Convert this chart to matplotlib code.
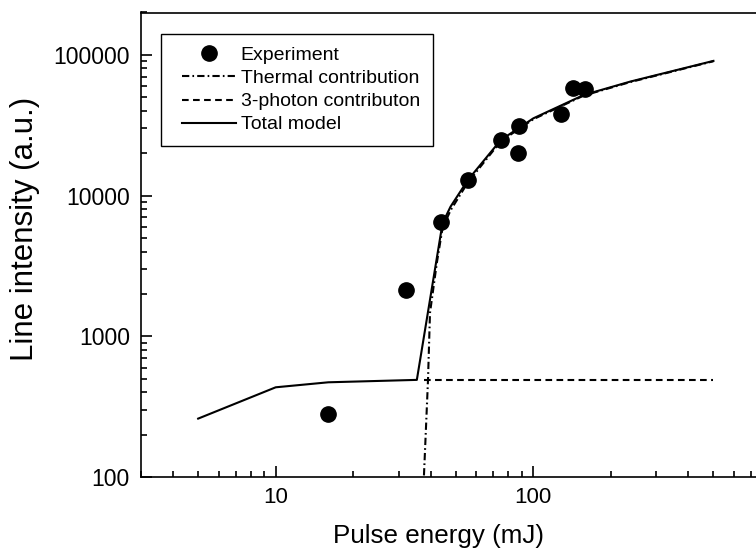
import matplotlib
matplotlib.use('Agg')
import matplotlib.pyplot as plt
from matplotlib.lines import Line2D
from matplotlib.legend_handler import HandlerLine2D
from matplotlib.ticker import LogLocator, FuncFormatter, NullFormatter

plt.rcParams['font.family'] = ['Liberation Sans', 'DejaVu Sans']

# measured line intensity vs pulse energy
exp_e = [16, 32, 44, 56, 75, 87, 88, 128, 142, 158]
exp_i = [280, 2150, 6500, 12800, 25000, 20000, 31000, 38000, 58000, 57000]

# model curves
total_e = [5, 10, 16, 35.3, 44.4, 47.7, 55.7, 74.7, 100, 157, 238, 500]
total_i = [260, 434, 471, 490, 6350, 8340, 12900, 24800, 35400, 51900, 64600, 90600]

thermal_e = [37.4, 39.0, 39.7, 42.2, 44.4, 47.7, 55.7, 74.7, 100, 157, 238, 500]
thermal_i = [80, 489, 1466, 3320, 5860, 7850, 12400, 24300, 34900, 51400, 64100, 90100]

photon3_e = [37.5, 500]
photon3_i = [490, 490]

fig = plt.figure(figsize=(7.56, 5.52), dpi=100)
# the axes run past the right edge of the figure
ax = fig.add_axes([141/756, 75/552, 650/756, 464.5/552])

ax.plot(exp_e, exp_i, 'o', color='black', markersize=11, label='Experiment')
ax.plot(thermal_e, thermal_i, color='black', lw=1.5, dashes=(3.5, 1.5, 0.8, 1.5),
        label='Thermal contribution')
ax.plot(photon3_e, photon3_i, color='black', lw=1.5, dashes=(3.2, 2.1),
        label='3-photon contributon')
ax.plot(total_e, total_i, color='black', lw=1.5, label='Total model')

ax.set_xscale('log')
ax.set_yscale('log')
ax.set_xlim(3, 1000)
ax.set_ylim(100, 2e5)

ax.xaxis.set_major_formatter(FuncFormatter(lambda v, p: '%d' % round(v) if v < 1000 else ''))
ax.yaxis.set_major_formatter(FuncFormatter(lambda v, p: '%d' % round(v)))
ax.xaxis.set_minor_locator(LogLocator(base=10, subs=range(2, 10)))
ax.yaxis.set_minor_locator(LogLocator(base=10, subs=range(2, 10)))
ax.xaxis.set_minor_formatter(NullFormatter())
ax.yaxis.set_minor_formatter(NullFormatter())

ax.tick_params(which='both', direction='in', top=False, right=False, width=1.2)
ax.tick_params(which='major', length=8)
ax.tick_params(which='minor', length=4.5)
ax.tick_params(axis='x', pad=7, labelsize=16)
ax.tick_params(axis='y', pad=8, labelsize=16.5)
for s in ax.spines.values():
    s.set_linewidth(1.2)

fig.text(438/756, 1 - 543.3/552, 'Pulse energy (mJ)', fontsize=18.7,
         ha='center', va='baseline')
fig.text(33.3/756, 1 - 229/552, 'Line intensity (a.u.)', fontsize=22.5, rotation=90,
         rotation_mode='anchor', ha='center', va='baseline')

leg = ax.legend(loc='upper left', bbox_to_anchor=(160.7/756, 1 - 34/552),
                bbox_transform=fig.transFigure, borderaxespad=0, fontsize=14,
                numpoints=1, handlelength=3.21, handletextpad=0.25, labelspacing=0.28,
                borderpad=0.65, fancybox=False, framealpha=1, edgecolor='black',
                handler_map={Line2D: HandlerLine2D(xpad=0.42)})
leg.get_frame().set_linewidth(1.0)

fig.savefig('out.png', dpi=100)
